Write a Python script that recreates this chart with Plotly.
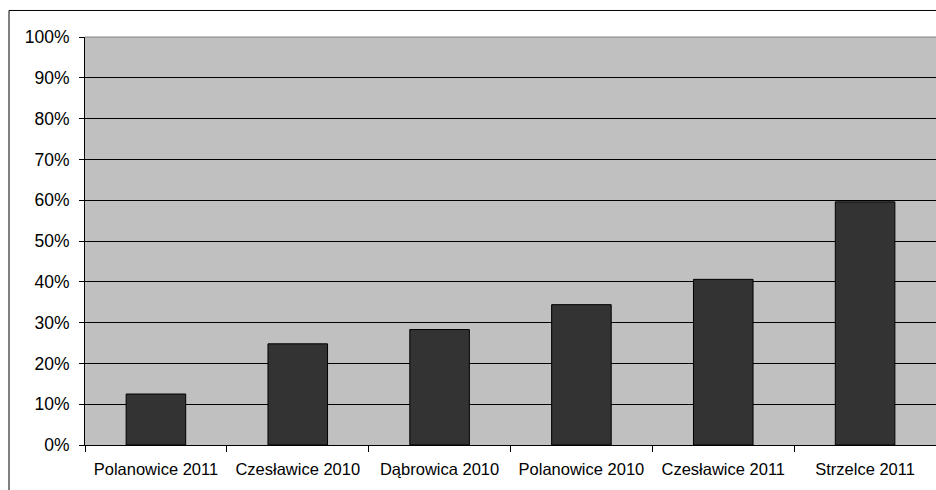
import plotly.graph_objects as go

categories = ["Polanowice 2011", "Czesławice 2010", "Dąbrowica 2010",
              "Polanowice 2010", "Czesławice 2011", "Strzelce 2011"]
values = [12.5, 24.8, 28.3, 34.4, 40.6, 59.6]
y_ticks = [0, 10, 20, 30, 40, 50, 60, 70, 80, 90, 100]
y_tick_labels = [f"{v}%" for v in y_ticks]

fig = go.Figure()
fig.add_trace(go.Bar(
    x=categories, y=values,
    marker=dict(color="#333333", line=dict(color="#000000", width=1)),
    hoverinfo="skip",
))

fam = "Liberation Sans, Arial, sans-serif"
xfont = dict(family=fam, size=16.5, color="#000000")
yfont = dict(family=fam, size=17.5, color="#000000")

fig.update_layout(
    width=936, height=490,
    margin=dict(l=85, r=0, t=37, b=45, pad=0),
    paper_bgcolor="#FFFFFF",
    plot_bgcolor="#C0C0C0",
    bargap=0.58,
    showlegend=False,
    font=xfont,
    xaxis=dict(
        type="category",
        tickson="boundaries",
        ticks="outside", ticklen=6, tickcolor="#000000", tickwidth=1,
        showline=True, linecolor="#000000", linewidth=1,
        showgrid=False,
        tickfont=xfont,
        ticklabelstandoff=9,
        fixedrange=True,
    ),
    yaxis=dict(
        range=[0, 100],
        tickvals=y_ticks, ticktext=y_tick_labels,
        ticks="outside", ticklen=5, tickcolor="#000000", tickwidth=1,
        showline=True, linecolor="#000000", linewidth=1,
        showgrid=True, gridcolor="#000000", gridwidth=1,
        zeroline=False,
        tickfont=yfont,
        ticklabelstandoff=6,
        fixedrange=True,
    ),
    shapes=[
        dict(type="line", xref="paper", yref="paper", x0=0, x1=1, y0=1, y1=1,
             line=dict(color="#808080", width=1), layer="above"),
        dict(type="rect", xref="paper", yref="paper",
             x0=-0.0893, x1=1.02, y0=1.065, y1=-0.25,
             line=dict(color="#000000", width=1), layer="above"),
    ],
)

fig.write_html("out.html")
